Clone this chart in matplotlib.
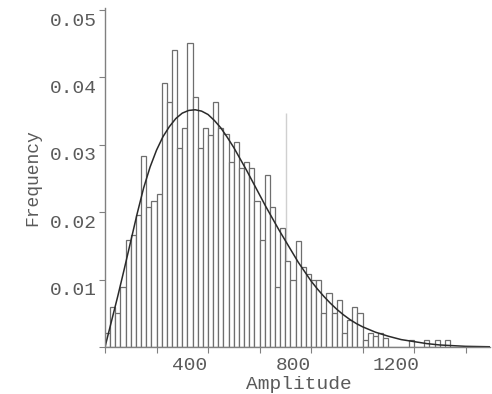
import matplotlib.pyplot as plt
import matplotlib.transforms as mtransforms
import numpy as np

# relative frequency per 20-unit amplitude bin, first bin starts at 0
bin_width = 20
frequency = [
    0.0021, 0.0060, 0.0051, 0.0089, 0.0159, 0.0166, 0.0196, 0.0284, 0.0207, 0.0216,
    0.0227, 0.0392, 0.0363, 0.0441, 0.0295, 0.0325, 0.0451, 0.0371, 0.0295, 0.0325,
    0.0315, 0.0363, 0.0325, 0.0316, 0.0275, 0.0304, 0.0265, 0.0275, 0.0265, 0.0216,
    0.0159, 0.0255, 0.0207, 0.0089, 0.0177, 0.0128, 0.0099, 0.0157, 0.0118, 0.0108,
    0.0099, 0.0099, 0.0051, 0.0080, 0.0051, 0.0070, 0.0021, 0.0040, 0.0060, 0.0050,
    0.0011, 0.0021, 0.0016, 0.0021, 0.0013, 0.0, 0.0, 0.0, 0.0, 0.0011,
    0.0, 0.0, 0.0010, 0.0, 0.0010, 0.0, 0.0010,
]
bin_left = np.arange(len(frequency)) * bin_width

# fitted distribution, scaled to the same bin width
fit_amplitude = [0, 25, 50, 75, 100, 125, 150, 175, 200, 225, 250, 275, 300, 325, 350,
                 375, 400, 425, 450, 475, 500, 525, 550, 575, 600, 625, 650, 675, 700,
                 725, 750, 775, 800, 825, 850, 875, 900, 925, 950, 975, 1000, 1050,
                 1100, 1150, 1200, 1250, 1300, 1400, 1500]
fit_frequency = [0.0, 0.0038, 0.0076, 0.0116, 0.0157, 0.0198, 0.0236, 0.0267, 0.0292,
                 0.0312, 0.0327, 0.0339, 0.0347, 0.0351, 0.0352, 0.0350, 0.0345, 0.0336,
                 0.0325, 0.0311, 0.0296, 0.0279, 0.0262, 0.0244, 0.0226, 0.0208, 0.0191,
                 0.0174, 0.0158, 0.0142, 0.0126, 0.0112, 0.0098, 0.0086, 0.0075, 0.0065,
                 0.0056, 0.0048, 0.0041, 0.0035, 0.0030, 0.0022, 0.0016, 0.0011, 0.0008,
                 0.0005, 0.0003, 0.0001, 0.00003]

x_ticks = [0, 200, 400, 600, 800, 1000, 1200, 1400]
x_labels = ['', '', '400', '', '800', '', '1200', '']
y_ticks = [0, 0.01, 0.02, 0.03, 0.04, 0.05]
y_labels = ['', '0.01', '0.02', '0.03', '0.04', '0.05']

marker_amplitude = 703
marker_top = 0.0347

plt.rcParams['font.family'] = ['Liberation Mono', 'DejaVu Sans Mono']
axis_grey = '#808080'
text_grey = '#5a5a5a'

fig = plt.figure(figsize=(4.92, 3.94), dpi=100)
ax = fig.add_axes([105 / 492, 47 / 394, 385 / 492, 339 / 394])

ax.bar(bin_left, frequency, width=bin_width, align='edge',
       color='white', edgecolor='#6e6e6e', linewidth=0.9, zorder=2)
ax.vlines(marker_amplitude, 0, marker_top, color='#d0d0d0', linewidth=1, zorder=1)
ax.plot(fit_amplitude, fit_frequency, color='#2a2a2a', linewidth=1.1, zorder=3)

ax.set_xlim(0, 1495)
ax.set_ylim(0, 0.0503)

for side in ('top', 'right'):
    ax.spines[side].set_visible(False)
for side in ('left', 'bottom'):
    ax.spines[side].set_color(axis_grey)
    ax.spines[side].set_linewidth(1)
    ax.spines[side].set_zorder(4)

ax.set_xticks(x_ticks, x_labels)
ax.set_yticks(y_ticks, y_labels)
ax.tick_params(direction='out', length=4, width=0.8, color=axis_grey,
               labelcolor=text_grey, labelsize=14)
ax.tick_params(axis='x', pad=3)
ax.tick_params(axis='y', pad=2)

# tick labels sit slightly off their ticks
x_shift = mtransforms.ScaledTranslation(-0.18, 0, fig.dpi_scale_trans)
y_shift = mtransforms.ScaledTranslation(0, -0.09, fig.dpi_scale_trans)
for label in ax.get_xticklabels():
    label.set_transform(label.get_transform() + x_shift)
for label in ax.get_yticklabels():
    label.set_transform(label.get_transform() + y_shift)

ax.set_xlabel('Amplitude', fontsize=14, color=text_grey, va='center')
ax.xaxis.set_label_coords(0.504, -0.112)
ax.set_ylabel('Frequency', fontsize=13, color=text_grey, va='center')
ax.yaxis.set_label_coords(-0.187, 0.4985)

fig.savefig('out.png', dpi=100)
